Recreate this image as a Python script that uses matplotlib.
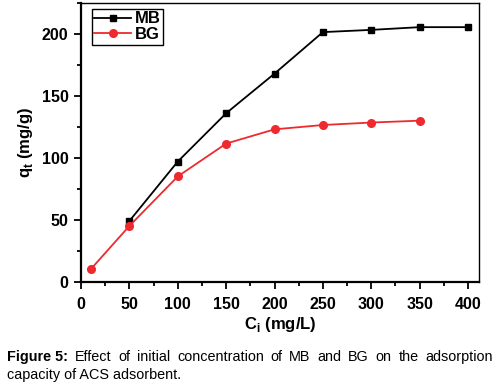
import matplotlib
matplotlib.use("Agg")
import matplotlib.pyplot as plt
from matplotlib.ticker import MultipleLocator

plt.rcParams['font.family'] = ['Liberation Sans', 'DejaVu Sans']

mb_x = [50, 100, 150, 200, 250, 300, 350, 400]
mb_y = [49, 97, 136, 168, 201.5, 203.3, 205.5, 205.5]
bg_x = [10, 50, 100, 150, 200, 250, 300, 350]
bg_y = [10, 45, 85, 111.5, 123, 126.5, 128.5, 130]

xticks = [0, 50, 100, 150, 200, 250, 300, 350, 400]
yticks = [0, 50, 100, 150, 200]

W, H = 503, 384
fig = plt.figure(figsize=(W/100, H/100), dpi=100)
ax = fig.add_axes([81/W, 1-281.7/H, (478.7-81)/W, (281.7-3)/H])

red = '#ee2a2e'
ax.plot(mb_x, mb_y, color='black', lw=1.3, marker='s', ms=5, label='MB')
ax.plot(bg_x, bg_y, color=red, lw=1.3, marker='o', ms=5.5, label='BG')

ax.set_xlim(0, 411)
ax.set_ylim(0, 225)
ax.set_xticks(xticks)
ax.set_yticks(yticks)
ax.xaxis.set_minor_locator(MultipleLocator(25))
ax.yaxis.set_minor_locator(MultipleLocator(25))
ax.tick_params(which='major', direction='out', length=5, width=1.3,
               labelsize=11.5, pad=4)
ax.tick_params(axis='x', which='major', pad=6)
ax.tick_params(which='minor', direction='out', length=3, width=1.3)
for lab in ax.get_xticklabels() + ax.get_yticklabels():
    lab.set_fontweight('bold')
for sp in ['left', 'bottom']:
    ax.spines[sp].set_linewidth(1.6)
for sp in ['top', 'right']:
    ax.spines[sp].set_linewidth(1.0)

ax.set_xlabel(r'C$_\mathregular{i}$ (mg/L)', fontsize=12, fontweight='bold', labelpad=2)
ax.set_ylabel(r'q$_\mathregular{t}$ (mg/g)', fontsize=12, fontweight='bold', labelpad=5)

leg = ax.legend(loc='upper left', bbox_to_anchor=(0.027, 0.979), fancybox=False,
                edgecolor='black', framealpha=1, fontsize=12, handlelength=2.2,
                borderpad=0.15, labelspacing=0.05, handletextpad=0.25,
                borderaxespad=0)
leg.get_frame().set_linewidth(1.0)
for t in leg.get_texts():
    t.set_fontweight('bold')

# Caption (justified first line)
cap_size = 10.4
fig.canvas.draw()
renderer = fig.canvas.get_renderer()
x0, x1 = 7/W, 493/W
y1 = 1 - 357/H
words = [("Figure 5:", 'bold')] + [(w, 'normal') for w in
         "Effect of initial concentration of MB and BG on the adsorption".split()]
texts = []
for w, fw in words:
    t = fig.text(0, y1, w, fontsize=cap_size, fontweight=fw, va='center', ha='left')
    texts.append(t)
widths = [t.get_window_extent(renderer).width / W for t in texts]
gap = ((x1 - x0) - sum(widths)) / (len(texts) - 1)
x = x0
for t, wd in zip(texts, widths):
    t.set_x(x)
    x += wd + gap
fig.text(x0, 1 - 375/H, "capacity of ACS adsorbent.", fontsize=cap_size,
         va='center', ha='left')

fig.savefig('out.png', dpi=100)
